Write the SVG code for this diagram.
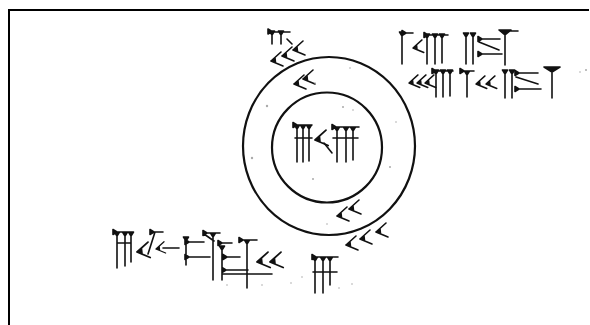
<svg xmlns="http://www.w3.org/2000/svg" xmlns:xlink="http://www.w3.org/1999/xlink" width="590" height="325" viewBox="0 0 590 325">
<style>
.c{fill:#111;stroke:#111;stroke-width:1.6;stroke-linejoin:round;stroke-linecap:round}
.ring{fill:none;stroke:#111;stroke-width:2.2}
.frame{fill:none;stroke:#000;stroke-width:2}
.dot{fill:#aaa}
</style>
<defs>
<path id="wk" class="c" d="M0,0 L10,-9 M0,0 L12,5 M0,0 L4,-3 L4.5,1.5 Z"/>
</defs>
<rect width="590" height="325" fill="#fff"/>
<g id="frame">
<path class="frame" d="M9,325 V10 H588"/>
<path class="frame" d="M585,10 h4" stroke-width="3"/>
</g>
<g id="rings">
<ellipse class="ring" cx="329" cy="146" rx="86" ry="89"/>
<circle class="ring" cx="327" cy="147.5" r="55"/>
</g>
<g id="top-left">
<path class="c" d="M268,29 v5 l4,-2.5 z M268,32 H290 M269.5,31 h5 l-2.5,4 z M272,31 V44 M278.5,31 h5 l-2.5,4 z M281,31 V44 M287,39 L292,44"/>
<use xlink:href="#wk" href="#wk" transform="translate(271,61)"/>
<use xlink:href="#wk" href="#wk" transform="translate(282,56)"/>
<use xlink:href="#wk" href="#wk" transform="translate(293,50)"/>
<use xlink:href="#wk" href="#wk" transform="translate(294,84)"/>
<use xlink:href="#wk" href="#wk" transform="translate(303,79)"/>
</g>
<g id="top-right">
<path class="c" d="M399.5,32 h5 l-2.5,4 z M402,32 V64 M402,30.5 v5 l4,-2.5 z M402,33 H413"/>
<use xlink:href="#wk" href="#wk" transform="translate(413,48) scale(0.9)"/>
<path class="c" d="M424,32.5 v5 l4,-2.5 z M424,35 H448 M424.5,34 h5 l-2.5,4 z M427,34 V64 M432.5,34 h5 l-2.5,4 z M435,34 V64 M439.5,34 h5 l-2.5,4 z M442,34 V63"/>
<path class="c" d="M463.5,33 h5 l-2.5,4 z M466,33 V64 M470.5,33 h5 l-2.5,4 z M473,33 V64"/>
<path class="c" d="M478,36.5 v5 l4,-2.5 z M478,39 H500 M479,42 L499,50 M478,51.5 v5 l4,-2.5 z M478,54 H502 M499,30 h12 l-6,5 z M505,31 H518 M505,32 V65"/>
<use xlink:href="#wk" href="#wk" transform="translate(409,83) scale(0.9)"/>
<use xlink:href="#wk" href="#wk" transform="translate(417,83) scale(0.9)"/>
<use xlink:href="#wk" href="#wk" transform="translate(425,83) scale(0.9)"/>
<path class="c" d="M432,68.5 v5 l4,-2.5 z M432,71 H453 M433.5,70 h5 l-2.5,4 z M436,70 V97 M440.5,70 h5 l-2.5,4 z M443,70 V97 M447.5,70 h5 l-2.5,4 z M450,70 V96"/>
<path class="c" d="M460,68.5 v5 l4,-2.5 z M460,71 H474 M464.5,71 h5 l-2.5,4 z M467,71 V97"/>
<use xlink:href="#wk" href="#wk" transform="translate(476,84) scale(0.9)"/>
<use xlink:href="#wk" href="#wk" transform="translate(486,84) scale(0.9)"/>
<path class="c" d="M502.5,70 h5 l-2.5,4 z M505,70 V98 M509.5,70 h5 l-2.5,4 z M512,70 V98"/>
<path class="c" d="M515,70.5 v5 l4,-2.5 z M515,73 H538 M516,77 L538,84 M515,86.5 v5 l4,-2.5 z M515,89 H541"/>
<path class="c" d="M544,67 h16 l-8,5 z M552,68 V98"/>
</g>
<g id="center">
<path class="c" d="M293,122.5 v5 l4,-2.5 z M293,125 H312 M294.5,125 h5 l-2.5,4 z M297,125 V162 M300.5,125 h5 l-2.5,4 z M303,125 V162 M306.5,125 h5 l-2.5,4 z M309,125 V161 M295,138 H312"/>
<use xlink:href="#wk" href="#wk" transform="translate(315,140) scale(1.1)"/>
<path class="c" d="M324,143 L332,153"/>
<path class="c" d="M332,124.5 v5 l4,-2.5 z M332,127 H359 M334.5,127 h5 l-2.5,4 z M337,127 V162 M343.5,127 h5 l-2.5,4 z M346,127 V162 M350.5,127 h5 l-2.5,4 z M353,127 V160 M333,138 H358"/>
</g>
<g id="ring-bottom">
<use xlink:href="#wk" href="#wk" transform="translate(337,216)"/>
<use xlink:href="#wk" href="#wk" transform="translate(349,209)"/>
</g>
<g id="outer-bottom-right">
<use xlink:href="#wk" href="#wk" transform="translate(346,245)"/>
<use xlink:href="#wk" href="#wk" transform="translate(360,239)"/>
<use xlink:href="#wk" href="#wk" transform="translate(376,232)"/>
</g>
<g id="bottom-sign">
<path class="c" d="M312,254.5 v5 l4,-2.5 z M312,257 H338 M312.5,257 h5 l-2.5,4 z M315,257 V293 M320.5,257 h5 l-2.5,4 z M323,257 V293 M327.5,257 h5 l-2.5,4 z M330,257 V285 M313,272 H337"/>
</g>
<g id="bottom-left">
<path class="c" d="M113,229.5 v5 l4,-2.5 z M113,232 H132 M114.5,232 h5 l-2.5,4 z M117,232 V268 M122.5,232 h5 l-2.5,4 z M125,232 V266 M128.5,232 h5 l-2.5,4 z M131,232 V262 M117,243 H131"/>
<use xlink:href="#wk" href="#wk" transform="translate(137,252) scale(1.1)"/>
<path class="c" d="M150,229.5 v5 l4,-2.5 z M150,232 H163 M155,232 L148,254"/>
<use xlink:href="#wk" href="#wk" transform="translate(156,249) scale(0.8)"/>
<path class="c" d="M163,248 H179"/>
<path class="c" d="M183.5,237 h5 l-2.5,4 z M186,237 V265 M185,239.5 v5 l4,-2.5 z M185,242 H204 M185,254.5 v5 l4,-2.5 z M185,257 H210 M203,230.5 v5 l4,-2.5 z M203,233 H220 M204,234 L214,241 M210.5,233 h5 l-2.5,4 z M213,233 V280"/>
<path class="c" d="M218,240.5 v5 l4,-2.5 z M218,243 H232 M219.5,246 h5 l-2.5,4 z M222,246 V280 M223,254.5 v5 l4,-2.5 z M223,257 H240 M222,267.5 v5 l4,-2.5 z M222,270 H248 M223,274 H272 M239,237.5 v5 l4,-2.5 z M239,240 H257 M244.5,240 h5 l-2.5,4 z M247,240 V288"/>
<use xlink:href="#wk" href="#wk" transform="translate(257,262) scale(1.1)"/>
<use xlink:href="#wk" href="#wk" transform="translate(270,262) scale(1.1)"/>
</g>
<g id="specks">
<circle class="dot" cx="343" cy="107" r="1"/>
<circle class="dot" cx="315" cy="83" r="0.8"/>
<circle class="dot" cx="353" cy="110" r="0.8"/>
<circle class="dot" cx="267" cy="106" r="1.2"/>
<circle class="dot" cx="252" cy="158" r="1.2"/>
<circle class="dot" cx="390" cy="167" r="1"/>
<circle class="dot" cx="396" cy="122" r="0.8"/>
<circle class="dot" cx="313" cy="179" r="1"/>
<circle class="dot" cx="327" cy="224" r="0.8"/>
<circle class="dot" cx="302" cy="277" r="0.8"/>
<circle class="dot" cx="339" cy="288" r="0.8"/>
<circle class="dot" cx="352" cy="284" r="0.8"/>
<circle class="dot" cx="291" cy="283" r="0.8"/>
<circle class="dot" cx="227" cy="285" r="0.8"/>
<circle class="dot" cx="262" cy="285" r="0.8"/>
<circle class="dot" cx="586" cy="70" r="1"/>
<circle class="dot" cx="580" cy="72" r="0.8"/>
<circle class="dot" cx="350" cy="68" r="0.8"/>
</g>
</svg>
